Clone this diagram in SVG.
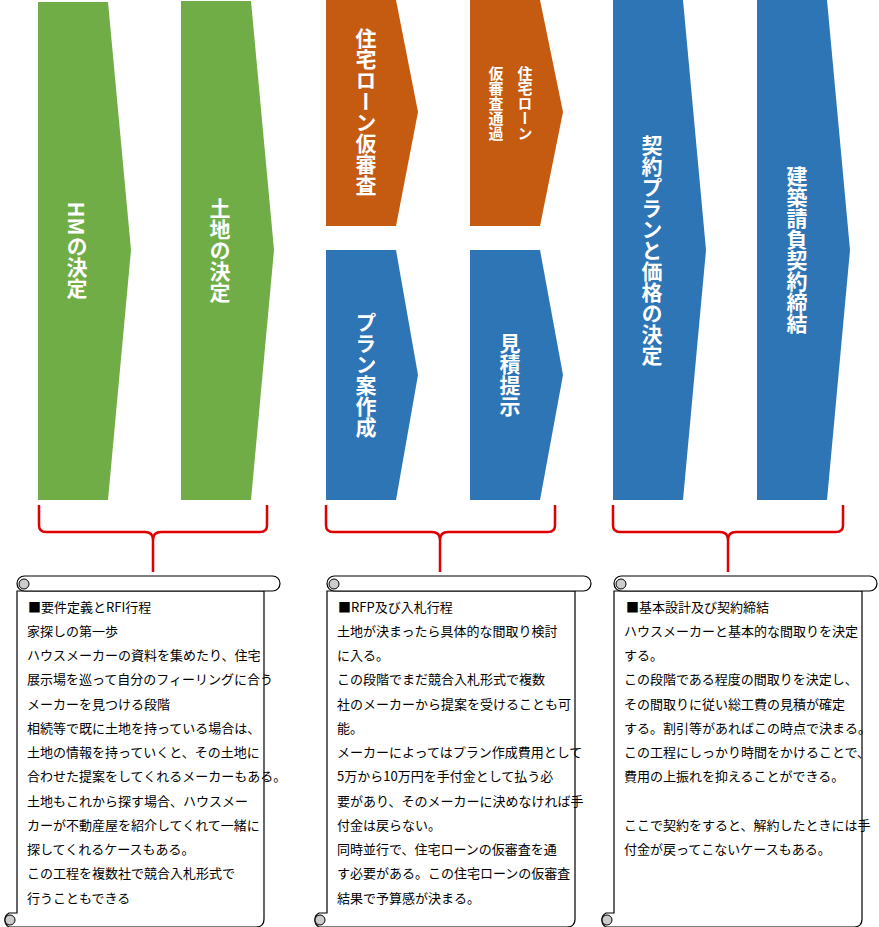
<svg xmlns="http://www.w3.org/2000/svg" width="879" height="927" viewBox="0 0 879 927">
<style>
.g{fill:#70AD47}.o{fill:#C55A11}.b{fill:#2E75B6}
.v{font-family:"Noto Sans CJK JP",sans-serif;font-weight:bold;fill:#fff;writing-mode:vertical-rl;text-anchor:middle;font-size:21px}
.br{fill:none;stroke:#E00000;stroke-width:2.5}
.sc{fill:#fff;stroke:#000;stroke-width:1.2}
.cu{fill:#ccc;stroke:#000;stroke-width:1}
.t{font-family:"Noto Sans CJK JP",sans-serif;font-size:13px;fill:#000}
</style>
<g id="n1"><polygon class="g" points="38,2 108,2 131,250 108,500 38,500"/><text class="v" x="77" y="250">HMの決定</text></g>
<g id="n2"><polygon class="g" points="181,1 251,1 274,250 251,500 181,500"/><text class="v" x="220" y="250">土地の決定</text></g>
<g id="n3"><polygon class="o" points="326,0 396,0 418,112 396,226 326,226"/><text class="v" x="366" y="112">住宅ローン仮審査</text></g>
<g id="n4"><polygon class="o" points="470,0 540,0 563,112 540,226 470,226"/><text class="v" x="525" y="66" style="font-size:15px;text-anchor:start">住宅ローン</text><text class="v" x="496" y="66" style="font-size:15px;text-anchor:start">仮審査通過</text></g>
<g id="n5"><polygon class="b" points="326,250 396,250 418,375 396,500 326,500"/><text class="v" x="366" y="375">プラン案作成</text></g>
<g id="n6"><polygon class="b" points="470,250 540,250 563,375 540,500 470,500"/><text class="v" x="510" y="375">見積提示</text></g>
<g id="n7"><polygon class="b" points="613,0 683,0 706,250 683,500 613,500"/><text class="v" x="652" y="250">契約プランと価格の決定</text></g>
<g id="n8"><polygon class="b" points="757,0 827,0 850,250 827,500 757,500"/><text class="v" x="797" y="250">建築請負契約締結</text></g>
<g id="connectors">
<path class="br" d="M39,505 V525 Q39,532 46,532 H145 Q153,532 153,540 V572 M267,505 V525 Q267,532 260,532 H161 Q153,532 153,540"/>
<path class="br" d="M326,505 V525 Q326,532 333,532 H432 Q440,532 440,540 V572 M555,505 V525 Q555,532 548,532 H448 Q440,532 440,540"/>
<path class="br" d="M613,505 V525 Q613,532 620,532 H720 Q728,532 728,540 V572 M843,505 V525 Q843,532 836,532 H736 Q728,532 728,540"/>
</g>
<g id="s1">
<path class="sc" d="M17,591 V913 H9 A8,8 0 0 0 9,927 H256 Q264,927 264,919 V591 Z"/>
<rect class="sc" x="17" y="576" width="263" height="15" rx="7.5"/>
<circle class="cu" cx="24" cy="584" r="5"/><circle class="cu" cx="10" cy="920" r="5"/>
<text class="t"><tspan x="28" y="612">■要件定義とRFI行程</tspan><tspan x="27" y="636">家探しの第一歩</tspan><tspan x="27" y="660">ハウスメーカーの資料を集めたり、住宅</tspan><tspan x="27" y="684">展示場を巡って自分のフィーリングに合う</tspan><tspan x="27" y="709">メーカーを見つける段階</tspan><tspan x="27" y="733">相続等で既に土地を持っている場合は、</tspan><tspan x="27" y="757">土地の情報を持っていくと、その土地に</tspan><tspan x="27" y="781">合わせた提案をしてくれるメーカーもある。</tspan><tspan x="27" y="806">土地もこれから探す場合、ハウスメー</tspan><tspan x="27" y="830">カーが不動産屋を紹介してくれて一緒に</tspan><tspan x="27" y="854">探してくれるケースもある。</tspan><tspan x="27" y="878">この工程を複数社で競合入札形式で</tspan><tspan x="27" y="903">行うこともできる</tspan></text>
</g>
<g id="s2">
<path class="sc" d="M327,591 V913 H319 A8,8 0 0 0 319,927 H567 Q575,927 575,919 V591 Z"/>
<rect class="sc" x="327" y="576" width="264" height="15" rx="7.5"/>
<circle class="cu" cx="334" cy="584" r="5"/><circle class="cu" cx="320" cy="920" r="5"/>
<text class="t"><tspan x="338" y="612">■RFP及び入札行程</tspan><tspan x="337" y="636">土地が決まったら具体的な間取り検討</tspan><tspan x="337" y="660">に入る。</tspan><tspan x="337" y="684">この段階でまだ競合入札形式で複数</tspan><tspan x="337" y="709">社のメーカーから提案を受けることも可</tspan><tspan x="337" y="733">能。</tspan><tspan x="337" y="757">メーカーによってはプラン作成費用として</tspan><tspan x="337" y="781">5万から10万円を手付金として払う必</tspan><tspan x="337" y="806">要があり、そのメーカーに決めなければ手</tspan><tspan x="337" y="830">付金は戻らない。</tspan><tspan x="337" y="854">同時並行で、住宅ローンの仮審査を通</tspan><tspan x="337" y="878">す必要がある。この住宅ローンの仮審査</tspan><tspan x="337" y="903">結果で予算感が決まる。</tspan></text>
</g>
<g id="s3">
<path class="sc" d="M614,591 V913 H606 A8,8 0 0 0 606,927 H854 Q862,927 862,919 V591 Z"/>
<rect class="sc" x="614" y="576" width="263" height="15" rx="7.5"/>
<circle class="cu" cx="621" cy="584" r="5"/><circle class="cu" cx="607" cy="920" r="5"/>
<text class="t"><tspan x="626" y="612">■基本設計及び契約締結</tspan><tspan x="624" y="636">ハウスメーカーと基本的な間取りを決定</tspan><tspan x="624" y="660">する。</tspan><tspan x="624" y="684">この段階である程度の間取りを決定し、</tspan><tspan x="624" y="709">その間取りに従い総工費の見積が確定</tspan><tspan x="624" y="733">する。割引等があればこの時点で決まる。</tspan><tspan x="624" y="757">この工程にしっかり時間をかけることで、</tspan><tspan x="624" y="781">費用の上振れを抑えることができる。</tspan><tspan x="624" y="830">ここで契約をすると、解約したときには手</tspan><tspan x="624" y="854">付金が戻ってこないケースもある。</tspan></text>
</g>
</svg>
